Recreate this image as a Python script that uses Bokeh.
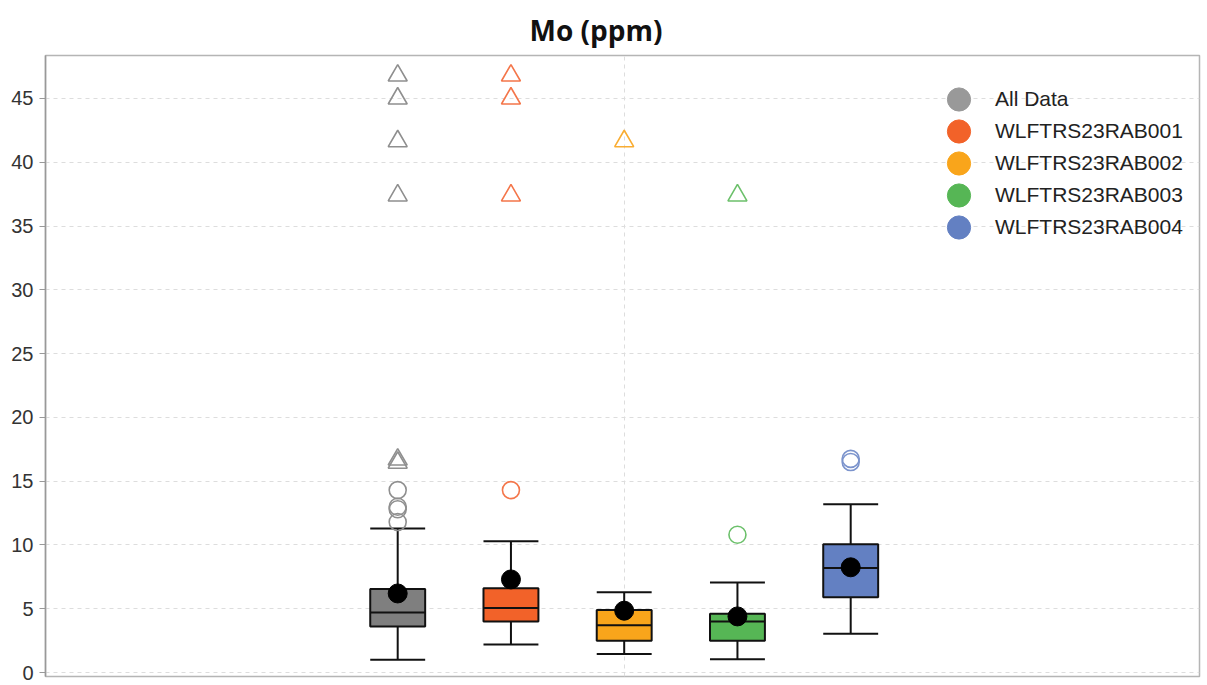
import numpy as np
from bokeh.plotting import figure
from bokeh.models import ColumnDataSource, FixedTicker, Legend, LegendItem, Range1d
from bokeh.embed import file_html
from bokeh.resources import INLINE

# ---- data ----
groups = ["All Data", "WLFTRS23RAB001", "WLFTRS23RAB002", "WLFTRS23RAB003", "WLFTRS23RAB004"]
positions = [1, 2, 3, 4, 5]
whisker_low = [1.0, 2.2, 1.45, 1.05, 3.05]
q1 = [3.6, 4.0, 2.5, 2.5, 5.9]
median = [4.7, 5.05, 3.7, 4.0, 8.2]
q3 = [6.55, 6.6, 4.9, 4.6, 10.05]
whisker_high = [11.3, 10.3, 6.3, 7.05, 13.2]
mean = [6.2, 7.3, 4.85, 4.4, 8.25]
mild_outliers = [[11.8, 12.8, 13.0, 14.3], [14.3], [], [10.8], [16.5, 16.75]]
extreme_outliers = [[16.45, 16.7, 37.4, 41.65, 45.0, 46.8], [37.4, 45.0, 46.8], [41.65], [37.4], []]
box_colors = ["#7f7f7f", "#f26229", "#f9a51b", "#56b655", "#6380c2"]
point_colors = ["#8f8f8f", "#f4764a", "#f9ad33", "#6cc06b", "#7b93cc"]
legend_colors = ["#999999", "#f26229", "#f9a51b", "#56b655", "#6380c2"]
y_ticks = [0, 5, 10, 15, 20, 25, 30, 35, 40, 45]

BOX_W = 0.485

xs = np.array(positions, dtype=float)
src = ColumnDataSource(dict(
    x=xs, x0=xs - BOX_W / 2, x1=xs + BOX_W / 2,
    lo=whisker_low, q1=q1, med=median, q3=q3, hi=whisker_high, mean=mean,
    color=box_colors,
))

mx, my, mc = [], [], []
for x, vals, c in zip(positions, mild_outliers, point_colors):
    for v in vals:
        mx.append(x); my.append(v); mc.append(c)
ex, ey, ec = [], [], []
for x, vals, c in zip(positions, extreme_outliers, point_colors):
    for v in vals:
        ex.append(x); ey.append(v); ec.append(c)

p = figure(width=1201, height=685, x_range=Range1d(-2.11, 8.08), y_range=Range1d(-0.31, 48.37),
           output_backend="svg", toolbar_location=None, title="Mo (ppm)",
           min_border_left=45, min_border_right=2, min_border_top=55, min_border_bottom=9)

p.title.align = "left"
p.title.offset = 484
p.title.text_font = "Open Sans"
p.title.text_font_size = "28px"
p.title.text_font_style = "bold"
p.title.text_color = "#111111"
p.title.standoff = 14

p.outline_line_color = "#b5b5b5"
p.outline_line_width = 1.5
p.background_fill_color = "white"
p.border_fill_color = "white"

p.xaxis.visible = False
p.yaxis.ticker = FixedTicker(ticks=y_ticks)
p.yaxis.minor_tick_line_color = None
p.yaxis.major_tick_in = 0
p.yaxis.major_tick_out = 6
p.yaxis.major_tick_line_color = "#999999"
p.yaxis.axis_line_color = "#999999"
p.yaxis.axis_line_width = 1.5
p.yaxis.major_label_text_font = "Liberation Sans"
p.yaxis.major_label_text_font_size = "20px"
p.yaxis.major_label_text_color = "#333333"
p.yaxis.major_label_standoff = 6

p.ygrid.grid_line_color = "#dddddd"
p.ygrid.grid_line_dash = "4 4"
p.xgrid.ticker = FixedTicker(ticks=[3])
p.xgrid.grid_line_color = "#dddddd"
p.xgrid.grid_line_dash = "4 4"

# whiskers
p.segment(x0="x", y0="lo", x1="x", y1="q1", source=src, line_color="#111111", line_width=2)
p.segment(x0="x", y0="q3", x1="x", y1="hi", source=src, line_color="#111111", line_width=2)
p.segment(x0="x0", y0="lo", x1="x1", y1="lo", source=src, line_color="#111111", line_width=2)
p.segment(x0="x0", y0="hi", x1="x1", y1="hi", source=src, line_color="#111111", line_width=2)
# boxes
p.vbar(x="x", width=BOX_W, bottom="q1", top="q3", source=src, fill_color="color",
       line_color="#111111", line_width=2)
p.segment(x0="x0", y0="med", x1="x1", y1="med", source=src, line_color="#111111", line_width=2)
# means
p.scatter(x="x", y="mean", source=src, marker="circle", size=19, fill_color="black", line_color="black")
# outliers
p.scatter(x=mx, y=my, marker="circle", size=17, fill_color=None, line_color=mc, line_width=1.6)
p.scatter(x=ex, y=ey, marker="triangle", size=19, fill_color=None, line_color=ec, line_width=1.6)

# legend
items = []
for g, c in zip(groups, legend_colors):
    r = p.ellipse(x=[np.nan], y=[np.nan], width=20, height=20, width_units="screen",
                  height_units="screen", fill_color=c, line_color=c)
    items.append(LegendItem(label=g, renderers=[r]))
legend = Legend(items=items, location=(899, 433), border_line_color=None, background_fill_alpha=0,
                padding=0, margin=0, spacing=0, glyph_width=29, glyph_height=32,
                label_height=32, label_standoff=22, label_text_font="Liberation Sans",
                label_text_font_size="21px", label_text_color="#222222")
p.add_layout(legend)

open("out.html", "w").write(file_html(p, INLINE))
